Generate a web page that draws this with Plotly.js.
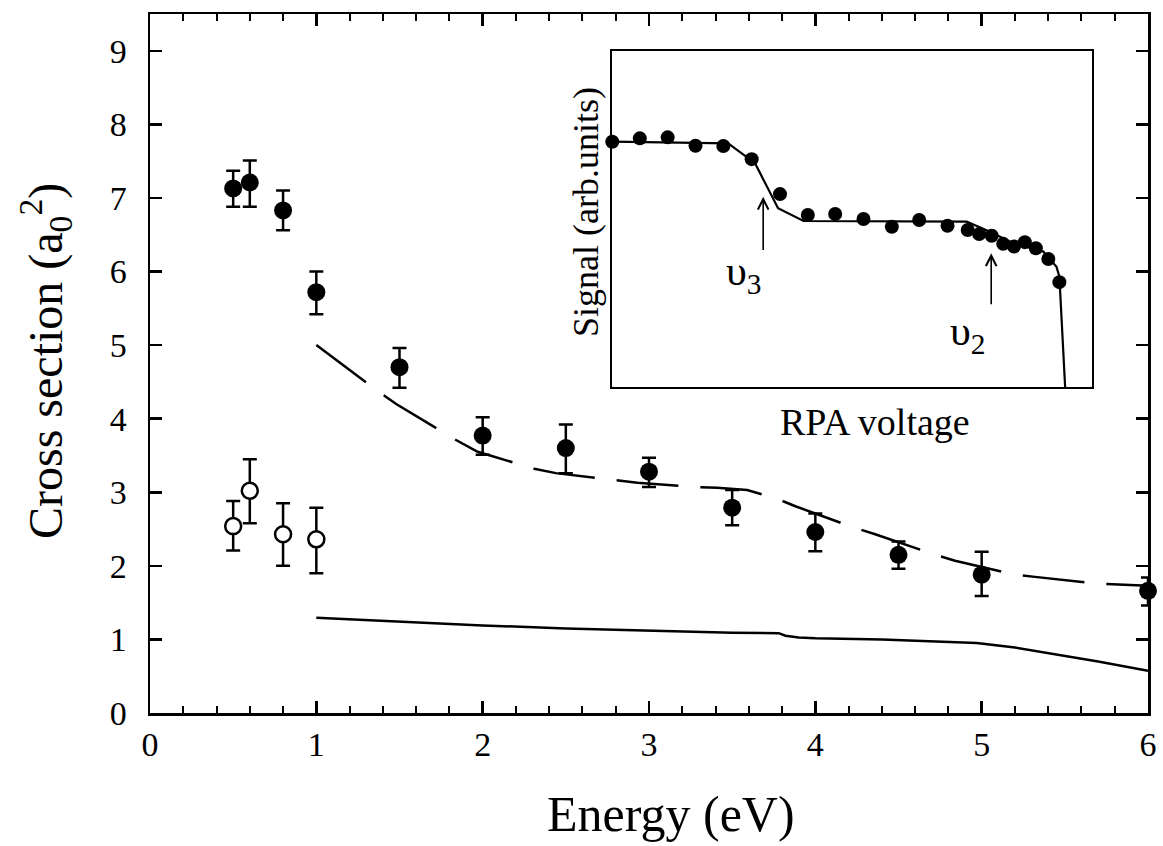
<!DOCTYPE html>
<html>
<head>
<meta charset="utf-8">
<script src="https://cdn.plot.ly/plotly-3.0.1.min.js"></script>
<style>html,body{margin:0;padding:0;background:#fff;}#chart{width:1163px;height:846px;}</style>
</head>
<body>
<div id="chart"></div>
<script>
// ---- Main panel: measured cross sections ----
const filledEnergy = [0.5, 0.6, 0.8, 1.0, 1.5, 2.0, 2.5, 3.0, 3.5, 4.0, 4.5, 5.0, 6.0];
const filledCross  = [7.13, 7.21, 6.83, 5.72, 4.70, 3.77, 3.60, 3.28, 2.79, 2.46, 2.15, 1.88, 1.66];
const filledErrUp  = [0.24, 0.30, 0.27, 0.28, 0.26, 0.25, 0.32, 0.19, 0.24, 0.25, 0.18, 0.31, 0.18];
const filledErrDn  = [0.25, 0.33, 0.27, 0.30, 0.28, 0.26, 0.34, 0.21, 0.24, 0.26, 0.19, 0.29, 0.20];

const openEnergy = [0.5, 0.6, 0.8, 1.0];
const openCross  = [2.54, 3.02, 2.43, 2.36];
const openErrUp  = [0.34, 0.43, 0.42, 0.43];
const openErrDn  = [0.33, 0.44, 0.43, 0.46];

// dashed theory curve
const dashEnergy = [1.0, 1.36, 1.48, 1.84, 1.97, 2.31, 2.44, 2.81, 2.93, 3.29, 3.41, 3.59, 3.76, 3.88, 4.22, 4.36, 4.72, 4.84, 5.20, 5.32, 5.68, 6.0];
const dashCross  = [5.00, 4.39, 4.20, 3.71, 3.55, 3.32, 3.26, 3.16, 3.13, 3.07, 3.06, 3.03, 2.92, 2.81, 2.53, 2.43, 2.15, 2.07, 1.88, 1.85, 1.76, 1.73];

// solid theory curve
const solidEnergy = [1.0, 1.5, 2.0, 2.5, 3.0, 3.5, 3.78, 3.82, 3.9, 4.0, 4.4, 4.97, 5.2, 5.41, 5.7, 6.0];
const solidCross  = [1.295, 1.24, 1.19, 1.15, 1.12, 1.09, 1.085, 1.05, 1.025, 1.015, 1.00, 0.95, 0.89, 0.81, 0.70, 0.575];

// ---- Inset: RPA signal (arbitrary units) ----
const insetVolt   = [0.06, 5.8, 11.6, 17.4, 23.2, 29.1, 35.0, 40.8, 46.5, 52.4, 58.3, 64.0, 69.9, 74.1, 76.5, 79.1, 81.5, 83.75, 86.0, 88.3, 90.9, 93.2];
const insetSignal = [73.0, 74.0, 74.3, 71.8, 71.7, 67.8, 57.4, 51.2, 51.5, 50.0, 47.7, 49.7, 48.0, 46.7, 45.5, 45.0, 42.6, 41.8, 43.1, 41.3, 38.1, 31.2];
const fitVolt   = [0, 24.2, 29.8, 34.6, 39.9, 73.9, 78.75, 83.6, 89.85, 92.6, 93.2, 94.4];
const fitSignal = [73.0, 72.5, 66.6, 53.2, 49.4, 49.2, 46.2, 42.8, 40.3, 35.8, 32.8, 0];

const xTitle = 'Energy (eV)';
const yTitle = 'Cross section (a<sub>0</sub><sup>2</sup>)';
const insetXTitle = 'RPA voltage';
const insetYTitle = 'Signal (arb.units)';

const FONT = "'Liberation Serif', 'Times New Roman', serif";

const traces = [
  {x: solidEnergy, y: solidCross, mode: 'lines', line: {color: '#000', width: 2.5}, hoverinfo: 'skip'},
  {x: dashEnergy, y: dashCross, mode: 'lines', line: {color: '#000', width: 2.5, dash: '62px,22px'}, hoverinfo: 'skip'},
  {x: filledEnergy, y: filledCross, mode: 'markers', cliponaxis: false,
   marker: {color: '#000', size: 18, symbol: 'circle'},
   error_y: {type: 'data', symmetric: false, array: filledErrUp, arrayminus: filledErrDn, color: '#000', thickness: 2.5, width: 7}},
  {x: openEnergy, y: openCross, mode: 'markers', cliponaxis: false,
   marker: {color: '#fff', size: 16, symbol: 'circle', line: {color: '#000', width: 2.5}},
   error_y: {type: 'data', symmetric: false, array: openErrUp, arrayminus: openErrDn, color: '#000', thickness: 2.5, width: 7}},
  {x: fitVolt, y: fitSignal, xaxis: 'x2', yaxis: 'y2', mode: 'lines', line: {color: '#000', width: 2.2}, hoverinfo: 'skip'},
  {x: insetVolt, y: insetSignal, xaxis: 'x2', yaxis: 'y2', mode: 'markers', cliponaxis: false,
   marker: {color: '#000', size: 14}}
];

const layout = {
  width: 1163, height: 846,
  margin: {l: 150, r: 15, t: 14, b: 133},
  paper_bgcolor: '#fff', plot_bgcolor: '#fff',
  showlegend: false,
  font: {family: FONT, color: '#000'},
  xaxis: {
    range: [0, 6], tickvals: [0, 1, 2, 3, 4, 5, 6],
    ticks: 'inside', ticklen: 12, tickwidth: 2.5, tickcolor: '#000',
    minor: {dtick: 0.2, ticks: 'inside', ticklen: 7, tickwidth: 2, tickcolor: '#000'},
    showline: true, linewidth: 2.5, linecolor: '#000', mirror: 'ticks',
    showgrid: false, zeroline: false,
    tickfont: {family: FONT, size: 34, color: '#000'}, ticklabelstandoff: 0
  },
  yaxis: {
    range: [0, 9.5], tickvals: [0, 1, 2, 3, 4, 5, 6, 7, 8, 9],
    ticks: 'inside', ticklen: 12, tickwidth: 2.5, tickcolor: '#000',
    showline: true, linewidth: 2.5, linecolor: '#000', mirror: 'ticks',
    showgrid: false, zeroline: false,
    tickfont: {family: FONT, size: 34, color: '#000'}, ticklabelstandoff: 14
  },
  xaxis2: {
    domain: [0.4629, 0.9439], anchor: 'y2', range: [0, 100],
    showline: true, linewidth: 2, linecolor: '#000', mirror: true,
    showticklabels: false, ticks: '', showgrid: false, zeroline: false
  },
  yaxis2: {
    domain: [0.4664, 0.9471], anchor: 'x2', range: [0, 100],
    showline: true, linewidth: 2, linecolor: '#000', mirror: true,
    showticklabels: false, ticks: '', showgrid: false, zeroline: false
  },
  annotations: [
    {xref: 'paper', yref: 'paper', x: 0.5216, y: -0.145, yanchor: 'middle', xanchor: 'center',
     text: xTitle, showarrow: false, font: {family: FONT, size: 50, color: '#000'}},
    {xref: 'paper', yref: 'paper', x: -0.1042, y: 0.5036, yanchor: 'middle', xanchor: 'center', textangle: -90,
     text: yTitle, showarrow: false, font: {family: FONT, size: 48, color: '#000'}},
    {xref: 'x2', yref: 'paper', x: 54.8, y: 0.417, yanchor: 'middle', xanchor: 'center',
     text: insetXTitle, showarrow: false, font: {family: FONT, size: 38, color: '#000'}},
    {xref: 'paper', yref: 'paper', x: 0.4369, y: 0.7167, yanchor: 'middle', xanchor: 'center', textangle: -90,
     text: insetYTitle, showarrow: false, font: {family: FONT, size: 36, color: '#000'}},
    {xref: 'x2', yref: 'y2', x: 31.5, y: 56.6, ax: 31.5, ay: 40.3, axref: 'x2', ayref: 'y2',
     text: '', showarrow: true, arrowhead: 5, arrowsize: 1.3, arrowwidth: 1.6, arrowcolor: '#000'},
    {xref: 'x2', yref: 'y2', x: 79.0, y: 39.8, ax: 79.0, ay: 24.2, axref: 'x2', ayref: 'y2',
     text: '', showarrow: true, arrowhead: 5, arrowsize: 1.3, arrowwidth: 1.6, arrowcolor: '#000'},
    {xref: 'x2', yref: 'y2', x: 27.4, y: 33.6, text: 'υ<sub>3</sub>', showarrow: false,
     font: {family: FONT, size: 42, color: '#000'}},
    {xref: 'x2', yref: 'y2', x: 74.2, y: 15.8, text: 'υ<sub>2</sub>', showarrow: false,
     font: {family: FONT, size: 42, color: '#000'}}
  ]
};

Plotly.newPlot('chart', traces, layout, {displayModeBar: false, staticPlot: true});
</script>
</body>
</html>
